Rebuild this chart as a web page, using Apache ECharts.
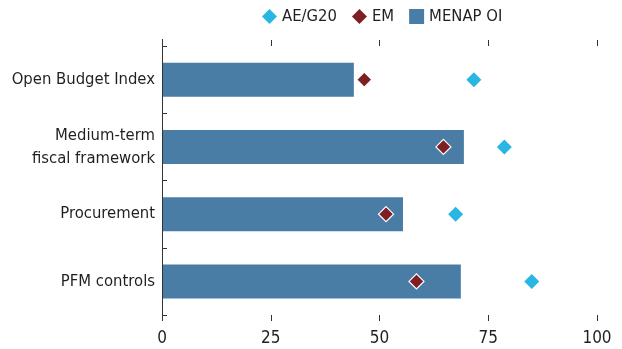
<!DOCTYPE html>
<html>
<head>
<meta charset="utf-8">
<script src="https://cdn.jsdelivr.net/npm/echarts@6/dist/echarts.min.js"></script>
<style>html,body{margin:0;padding:0;background:#fff}#c{width:622px;height:349px}</style>
</head>
<body>
<div id="c"></div>
<script>
const categories = ["Open Budget Index", "Medium-term\nfiscal framework", "Procurement", "PFM controls"];
const menapOI = [44.1, 69.4, 55.4, 68.7];
const em = [46.5, 64.7, 51.5, 58.5];
const aeG20 = [71.7, 78.7, 67.5, 85.0];
const xTicks = [0, 25, 50, 75, 100];

const FONT = "'Liberation Sans Narrow', 'Arial Narrow', 'DejaVu Sans Condensed', sans-serif";
const TXT = '#231f20';

const chart = echarts.init(document.getElementById('c'), null, {renderer: 'canvas'});
const option = {
  animation: false,
  textStyle: {fontFamily: FONT},
  legend: {
    top: 3, left: 257,
    itemWidth: 15, itemHeight: 15, itemGap: 15,
    textStyle: {fontFamily: FONT, fontSize: 16.5, color: TXT},
    data: [
      {name: 'AE/G20', icon: 'diamond'},
      {name: 'EM', icon: 'diamond', itemStyle: {borderWidth: 0}},
      {name: 'MENAP OI', icon: 'rect', itemStyle: {}}
    ]
  },
  grid: {left: 162, right: 25, top: 46, bottom: 34, containLabel: false, outerBoundsMode: 'none'},
  xAxis: [{
    type: 'value', min: xTicks[0], max: xTicks[xTicks.length - 1], interval: 25,
    position: 'bottom',
    axisLine: {show: false},
    axisTick: {show: true, length: 6, lineStyle: {color: '#333', width: 1}},
    splitLine: {show: false},
    axisLabel: {fontFamily: FONT, fontSize: 17, color: TXT, margin: 15}
  }, {
    type: 'value', min: xTicks[0], max: xTicks[xTicks.length - 1], interval: 25,
    position: 'top',
    axisLine: {show: false},
    axisTick: {show: true, length: 6, lineStyle: {color: '#333', width: 1}},
    splitLine: {show: false},
    axisLabel: {show: false}
  }],
  yAxis: {
    type: 'category', data: categories, inverse: true,
    axisLine: {show: true, lineStyle: {color: '#333', width: 1}},
    axisTick: {show: true, inside: true, length: 5, lineStyle: {color: '#333'}},
    axisLabel: {fontFamily: FONT, fontSize: 16.5, color: TXT, margin: 7, lineHeight: 23, align: 'right'}
  },
  series: [
    {name: 'MENAP OI', type: 'bar', data: menapOI, barWidth: 34, itemStyle: {color: '#4a7da6'}, z: 1},
    {name: 'EM', type: 'scatter', data: em, symbol: 'diamond', symbolSize: 15,
      itemStyle: {color: '#7e1f23', borderColor: '#fff', borderWidth: 1.2, opacity: 1}, z: 3},
    {name: 'AE/G20', type: 'scatter', data: aeG20, symbol: 'diamond', symbolSize: 15,
      itemStyle: {color: '#29b6e3', opacity: 1}, z: 3}
  ]
};
chart.setOption(option);

// Extend the left axis line slightly beyond the category bands, as in the original.
const gridRect = chart.getModel().getComponent('grid').coordinateSystem.getRect();
const x0 = chart.convertToPixel({xAxisIndex: 0}, xTicks[0]);
chart.setOption({
  graphic: [{
    type: 'line', z: 10,
    shape: {x1: Math.round(x0) + 0.5, y1: gridRect.y - 7, x2: Math.round(x0) + 0.5, y2: gridRect.y + gridRect.height + 6},
    style: {stroke: '#333', lineWidth: 1}
  }]
});
</script>
</body>
</html>
